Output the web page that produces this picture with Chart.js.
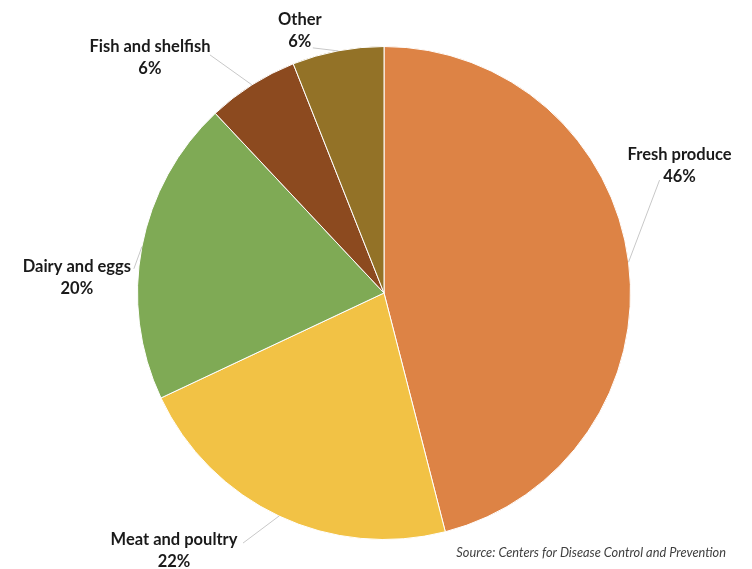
<!DOCTYPE html>
<html>
<head>
<meta charset="utf-8">
<script src="https://cdn.jsdelivr.net/npm/chart.js@4/dist/chart.umd.min.js"></script>
<style>
html,body{margin:0;padding:0;background:#fff;}
#wrap{position:relative;width:752px;height:569px;}
</style>
</head>
<body>
<div id="wrap"><canvas id="c" width="752" height="569"></canvas></div>
<script>
const categories = ["Fresh produce", "Meat and poultry", "Dairy and eggs", "Fish and shelfish", "Other"];
const shares = [46, 22, 20, 6, 6];
const sourceNote = "Source: Centers for Disease Control and Prevention";

const colors = ["#DD8345", "#F2C245", "#7FAA55", "#8C4A1F", "#937227"];
// label placement relative to the slice's outer mid-point: text centre and leader end
const labelLayout = [
  {tx: 51, ty: -107, lx: 31, ly: -82},
  {tx: -105, ty: 24, lx: -36, ly: 27},
  {tx: -65, ty: 20, lx: -8, ly: 22},
  {tx: -102, ty: -38, lx: -42, ly: -30},
  {tx: -38, ty: -31, lx: -25, ly: -3}
];

const labelPlugin = {
  id: 'outLabels',
  afterDatasetsDraw(chart) {
    const ctx = chart.ctx;
    const meta = chart.getDatasetMeta(0);
    const data = chart.data.datasets[0].data;
    meta.data.forEach((arc, i) => {
      const p = arc.getProps(['x','y','startAngle','endAngle','outerRadius'], true);
      const mid = (p.startAngle + p.endAngle) / 2;
      const ax = p.x + Math.cos(mid) * p.outerRadius;
      const ay = p.y + Math.sin(mid) * p.outerRadius;
      const L = labelLayout[i];
      ctx.save();
      ctx.strokeStyle = '#c8c8c8';
      ctx.lineWidth = 1;
      ctx.beginPath();
      ctx.moveTo(ax, ay);
      ctx.lineTo(ax + L.lx, ay + L.ly);
      ctx.stroke();
      ctx.fillStyle = '#1a1a1a';
      ctx.font = 'bold 16.5px Lato, "Open Sans", sans-serif';
      ctx.textAlign = 'center';
      ctx.textBaseline = 'middle';
      const cx = ax + L.tx, cy = ay + L.ty;
      ctx.fillText(chart.data.labels[i], cx, cy);
      ctx.fillText(data[i] + '%', cx, cy + 22);
      ctx.restore();
    });
    ctx.save();
    ctx.fillStyle = '#404040';
    ctx.font = 'italic 12.8px Lato, "Open Sans", sans-serif';
    ctx.textAlign = 'right';
    ctx.textBaseline = 'middle';
    ctx.fillText(sourceNote, 726, 553);
    ctx.restore();
  }
};

new Chart(document.getElementById('c'), {
  type: 'pie',
  data: {
    labels: categories,
    datasets: [{
      data: shares,
      backgroundColor: colors,
      borderColor: '#ffffff',
      borderWidth: 1
    }]
  },
  options: {
    responsive: false,
    animation: false,
    layout: {padding: {top: 46, bottom: 29, left: 100, right: 84}},
    plugins: {legend: {display: false}, tooltip: {enabled: false}}
  },
  plugins: [labelPlugin]
});
</script>
</body>
</html>
